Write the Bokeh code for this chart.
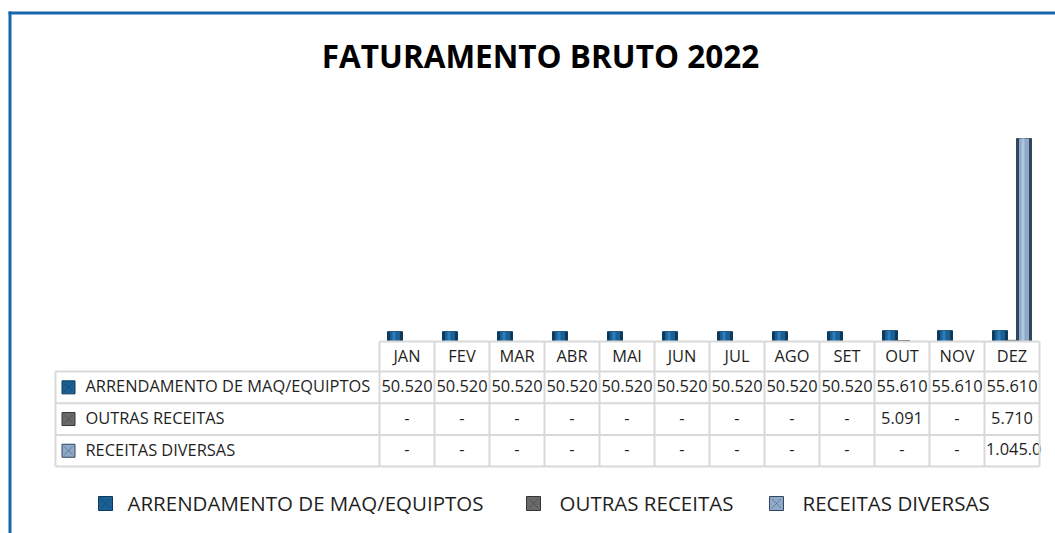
from bokeh.plotting import figure
from bokeh.models import ColumnDataSource, Range1d
from bokeh.transform import dodge
from bokeh.core.properties import value
from bokeh.embed import file_html
from bokeh.resources import INLINE

# ---------------- data ----------------
title_text = "FATURAMENTO BRUTO 2022"
months = ["JAN", "FEV", "MAR", "ABR", "MAI", "JUN", "JUL", "AGO", "SET", "OUT", "NOV", "DEZ"]
series_names = ["ARRENDAMENTO DE MAQ/EQUIPTOS", "OUTRAS RECEITAS", "RECEITAS DIVERSAS"]
arrendamento = [50520, 50520, 50520, 50520, 50520, 50520, 50520, 50520, 50520, 55610, 55610, 55610]
outras_receitas = [0, 0, 0, 0, 0, 0, 0, 0, 0, 5091, 0, 5710]
receitas_diversas = [0, 0, 0, 0, 0, 0, 0, 0, 0, 0, 0, 1045000]

# ---------------- styles / layout ----------------
FONT = value("Open Sans")
TXT = "#1f1f1f"
GRID = "#d9d9d9"
FRAME_BLUE = "#1767ad"
styles = [  # (fill, edge, highlight)
    ("#1b5f93", "#0b3a5e", "#2f86c6"),
    ("#6a6a6a", "#353535", "#9a9a9a"),
    ("#8ea9c9", "#34465c", "#b7cde6"),
]

W, H = 1055, 533
MONTH_LEFT, COL_W, TABLE_LEFT = 379, 55, 55
HEADER_TOP, HEADER_H, ROW_H = 341, 30, 31.7
PLOT_TOP, Y_MAX = 108, 1_200_000
BAR_W, BAR_STEP = 15, 12
CELL_CHARS = 7  # characters that fit in a data cell (overflow is clipped like the source)


def fmt(v):
    return "-" if v == 0 else f"{v:,}".replace(",", ".")


p = figure(width=W, height=H, x_range=Range1d(0, W), y_range=Range1d(H, 0),
           output_backend="svg", toolbar_location=None, min_border=0,
           x_axis_location=None, y_axis_location=None)
p.grid.visible = False
p.outline_line_color = None
p.background_fill_color = "white"
p.border_fill_color = "white"

ppv = (HEADER_TOP - PLOT_TOP) / Y_MAX
p.extra_x_ranges = {"col": Range1d(-MONTH_LEFT / COL_W, (W - MONTH_LEFT) / COL_W)}
p.extra_y_ranges = {"val": Range1d(-(H - HEADER_TOP) / ppv, HEADER_TOP / ppv)}

# ---------------- frame ----------------
p.quad(left=[8], right=[W], top=[11], bottom=[14], fill_color=FRAME_BLUE, line_color=None)
p.quad(left=[8], right=[11], top=[11], bottom=[H], fill_color=FRAME_BLUE, line_color=None)

# ---------------- title ----------------
p.text(x=[540], y=[54.5], text=[title_text], text_font=FONT, text_font_style="bold",
       text_font_size="31.5px", text_align="center", text_baseline="middle", text_color="black")

# ---------------- bars ----------------
bar_src = ColumnDataSource(dict(idx=[i + 0.5 for i in range(len(months))],
                                s0=arrendamento, s1=outras_receitas, s2=receitas_diversas))
for k, (fill, edge, hi) in enumerate(styles):
    off = (k - 1) * BAR_STEP / COL_W
    p.vbar(x=dodge("idx", off), top=f"s{k}", bottom=0, width=BAR_W / COL_W, source=bar_src,
           x_range_name="col", y_range_name="val", fill_color=edge, line_color=edge, line_width=1)
    p.vbar(x=dodge("idx", off), top=f"s{k}", bottom=0, width=(BAR_W - 5) / COL_W, source=bar_src,
           x_range_name="col", y_range_name="val", fill_color=fill, line_color=None)
    p.vbar(x=dodge("idx", off - 1 / COL_W), top=f"s{k}", bottom=0, width=3 / COL_W, source=bar_src,
           x_range_name="col", y_range_name="val", fill_color=hi, line_color=None, fill_alpha=0.8)

# ---------------- data table ----------------
def row_center(r):
    return HEADER_TOP + HEADER_H + ROW_H * (r + 0.5)


TS = "16.4px"
DY = -1.5
p.text(x=[i + 0.5 for i in range(len(months))], y=[HEADER_TOP + HEADER_H / 2 + DY] * len(months),
       text=months, x_range_name="col", text_font=FONT, text_font_size=TS,
       text_align="center", text_baseline="middle", text_color=TXT)

cx, cy, ct, lx, ly, lt = [], [], [], [], [], []
for r, vals in enumerate([arrendamento, outras_receitas, receitas_diversas]):
    for i, v in enumerate(vals):
        s = fmt(v)
        if len(s) > 6:
            lx.append(i + 1.5 / COL_W); ly.append(row_center(r) + DY); lt.append(s[:CELL_CHARS])
        else:
            cx.append(i + 0.5); cy.append(row_center(r) + DY); ct.append(s)
p.text(x=cx, y=cy, text=ct, x_range_name="col", text_font=FONT, text_font_size=TS,
       text_align="center", text_baseline="middle", text_color=TXT)
p.text(x=lx, y=ly, text=lt, x_range_name="col", text_font=FONT, text_font_size=TS,
       text_align="left", text_baseline="middle", text_color=TXT)

# row labels with markers
rows_y = [row_center(r) for r in range(3)]
for r, name in enumerate(series_names):
    fill, edge, hi = styles[r]
    p.scatter(x=[68], y=[rows_y[r]], marker="square", size=13, fill_color=fill, line_color=edge)
    p.scatter(x=[68], y=[rows_y[r]], marker="x", size=12, line_color=edge, line_alpha=0.45)
p.text(x=[85] * 3, y=[y + DY for y in rows_y], text=series_names, text_font=FONT,
       text_font_size=TS, text_align="left", text_baseline="middle", text_color=TXT)

# grid lines
right = MONTH_LEFT + COL_W * len(months)
bottom = HEADER_TOP + HEADER_H + 3 * ROW_H
x0s = [MONTH_LEFT + i * COL_W for i in range(len(months) + 1)] + [TABLE_LEFT]
y0s = [HEADER_TOP] * (len(months) + 1) + [HEADER_TOP + HEADER_H]
p.segment(x0=x0s, y0=y0s, x1=x0s, y1=[bottom] * len(x0s), line_color=GRID, line_width=2)
hy = [HEADER_TOP + HEADER_H + ROW_H * r for r in range(4)]
p.segment(x0=[MONTH_LEFT] + [TABLE_LEFT] * 4, y0=[HEADER_TOP] + hy,
          x1=[right] * 5, y1=[HEADER_TOP] + hy, line_color=GRID, line_width=2)

# ---------------- legend ----------------
LEG_Y = 502
leg_marker_x = [105, 533, 776]
leg_text_x = [127, 559, 802]
for k in range(3):
    fill, edge, hi = styles[k]
    p.scatter(x=[leg_marker_x[k]], y=[LEG_Y + 1], marker="square", size=14, fill_color=fill, line_color=edge)
    p.scatter(x=[leg_marker_x[k]], y=[LEG_Y + 1], marker="x", size=13, line_color=edge, line_alpha=0.45)
p.text(x=leg_text_x, y=[LEG_Y] * 3, text=series_names, text_font=FONT, text_font_size="20.5px",
       text_align="left", text_baseline="middle", text_color=TXT)

open("out.html", "w").write(file_html(p, INLINE))
